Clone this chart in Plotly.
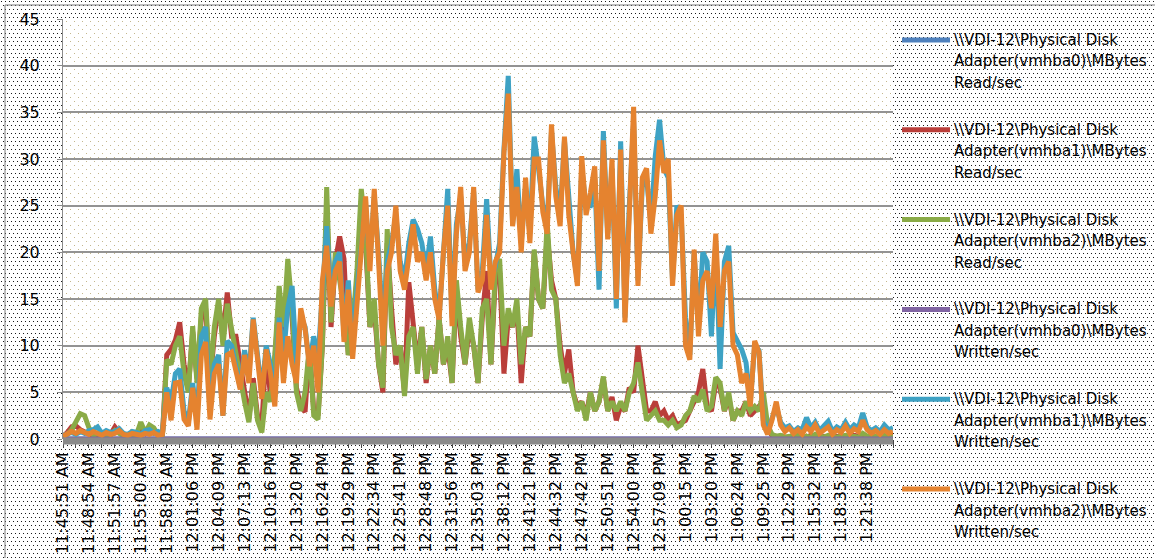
import base64
import plotly.graph_objects as go

# ---------------------------------------------------------------------------
# Data: one sample every ~15 s, a time label every 6th sample
# ---------------------------------------------------------------------------
TICK_LABELS = [
    "11:45:51 AM", "11:48:54 AM", "11:51:57 AM", "11:55:00 AM", "11:58:03 AM",
    "12:01:06 PM", "12:04:09 PM", "12:07:13 PM", "12:10:16 PM", "12:13:20 PM",
    "12:16:24 PM", "12:19:29 PM", "12:22:34 PM", "12:25:41 PM", "12:28:48 PM",
    "12:31:56 PM", "12:35:03 PM", "12:38:12 PM", "12:41:21 PM", "12:44:32 PM",
    "12:47:42 PM", "12:50:51 PM", "12:54:00 PM", "12:57:09 PM", "1:00:15 PM",
    "1:03:20 PM", "1:06:24 PM", "1:09:25 PM", "1:12:29 PM", "1:15:32 PM",
    "1:18:35 PM", "1:21:38 PM",
]
SAMPLES_PER_LABEL = 6

SERIES_NAMES = [
    "\\\\VDI-12\\Physical Disk Adapter(vmhba0)\\MBytes Read/sec",
    "\\\\VDI-12\\Physical Disk Adapter(vmhba1)\\MBytes Read/sec",
    "\\\\VDI-12\\Physical Disk Adapter(vmhba2)\\MBytes Read/sec",
    "\\\\VDI-12\\Physical Disk Adapter(vmhba0)\\MBytes Written/sec",
    "\\\\VDI-12\\Physical Disk Adapter(vmhba1)\\MBytes Written/sec",
    "\\\\VDI-12\\Physical Disk Adapter(vmhba2)\\MBytes Written/sec",
]

READ_VMHBA0 = [
    0, 0, 0, 0, 0, 0, 0, 0, 0, 0, 0, 0, 0, 0, 0, 0, 0, 0, 0, 0, 0, 0, 0, 0,
    0, 0, 0, 0, 0, 0, 0, 0, 0, 0, 0, 0, 0, 0, 0, 0, 0, 0, 0, 0, 0, 0, 0, 0,
    0, 0, 0, 0, 0, 0, 0, 0, 0, 0, 0, 0, 0, 0, 0, 0, 0, 0, 0, 0, 0, 0, 0, 0,
    0, 0, 0, 0, 0, 0, 0, 0, 0, 0, 0, 0, 0, 0, 0, 0, 0, 0, 0, 0, 0, 0, 0, 0,
    0, 0, 0, 0, 0, 0, 0, 0, 0, 0, 0, 0, 0, 0, 0, 0, 0, 0, 0, 0, 0, 0, 0, 0,
    0, 0, 0, 0, 0, 0, 0, 0, 0, 0, 0, 0, 0, 0, 0, 0, 0, 0, 0, 0, 0, 0, 0, 0,
    0, 0, 0, 0, 0, 0, 0, 0, 0, 0, 0, 0, 0, 0, 0, 0, 0, 0, 0, 0, 0, 0, 0, 0,
    0, 0, 0, 0, 0, 0, 0, 0, 0, 0, 0, 0, 0, 0, 0, 0, 0, 0, 0, 0, 0, 0, 0, 0,
    0,
]
READ_VMHBA1 = [
    0.3, 0.7, 1.3, 1.4, 1.0, 0.8, 0.5, 0.3, 0.4, 0.2, 0.6, 0.5,
    1.3, 0.7, 0.4, 0.3, 0.5, 0.4, 0.9, 0.6, 1.2, 1.0, 0.5, 0.4,
    9, 9.6, 10.6, 12.5, 8, 5.5, 11.5, 6.5, 13, 14,
    6, 11, 14.5, 11, 15.7, 11, 11, 8, 4.5, 2.2,
    6.5, 2.5, 1.5, 9.6, 4.5, 8.5, 15, 11, 17, 13,
    5.5, 3.5, 2.9, 10, 3, 2.5, 10, 25, 12, 19,
    21.7, 19.3, 9, 12, 17, 25, 21, 12, 14, 8,
    5, 21, 14, 8, 10, 5, 16.8, 12, 8, 12,
    6, 10, 7, 13, 8, 10, 6, 16, 11, 8,
    12, 10, 6, 13, 18, 8, 17, 18, 7, 13,
    12, 14, 6, 12, 11, 20, 15, 14, 22, 17,
    15, 10, 7, 9.6, 5, 3.5, 4, 2.5, 5, 3,
    4, 6.5, 3, 4.5, 2, 3.5, 3, 5.5, 5, 10,
    6, 3, 3, 4, 2.5, 3, 2, 2.5, 1.5, 1.8,
    2, 3, 4, 5, 7.5, 3.5, 3, 6, 5.5, 3, 4.5, 2,
    3, 3, 4, 2.5, 3, 3.5, 4, 1, 0.4, 0.3, 0.2, 0.2,
    0.2, 0.3, 0.2, 0.3, 0.2, 0.4, 0.3, 0.2, 0.3, 0.2, 0.4, 0.3, 0.2,
    0.3, 0.2, 0.4, 0.3, 0.5, 0.2, 0.3, 0.2, 0.3, 0.2, 0.4, 0.3,
]
READ_VMHBA2 = [
    0.2, 0.5, 1.0, 2.0, 2.7, 2.5, 1.2, 0.4, 0.6, 0.3, 0.5, 0.4,
    0.9, 0.6, 0.3, 0.5, 0.4, 0.5, 1.8, 0.7, 1.5, 1.2, 0.4, 0.3,
    8.5, 8, 10, 11, 7, 5, 12.1, 6, 14, 15,
    6, 12, 15, 10, 14.5, 11.8, 9, 7, 4, 1.8,
    6, 2, 0.7, 5, 4, 9, 16.4, 12, 19.3, 14,
    5, 3, 5, 10, 2.5, 2.1, 10, 27, 12.5, 20,
    17, 14, 9, 12, 18, 26.8, 22, 12, 15, 8,
    5.5, 22.5, 12, 9, 10, 4.6, 11, 12, 7, 12,
    6.4, 10, 7, 13, 8, 11, 6, 17, 12, 8,
    13, 10, 6, 14, 15, 8, 18, 19.3, 10, 14,
    12, 15, 8, 12, 11, 20.3, 15, 14, 23.2, 16,
    15, 9, 6, 7, 5, 3, 4, 2, 5, 3,
    4, 6.7, 3, 4, 3, 4, 3, 5, 6, 8.2,
    5, 2, 2.5, 3, 2, 2, 1.5, 2, 1.2, 1.5,
    2.5, 3, 4.6, 4, 5.3, 3, 3.5, 6.6, 6, 3, 5, 2,
    3, 2.5, 4, 3, 3.5, 3, 5, 1.5, 0.5, 0.3, 0.4, 0.2,
    0.3, 0.2, 0.4, 0.2, 0.3, 0.2, 0.5, 0.3, 0.2, 0.4, 0.3, 0.2, 0.3,
    0.4, 0.2, 0.3, 0.2, 0.6, 0.3, 0.2, 0.3, 0.2, 0.4, 0.3, 0.2,
]
WRITTEN_VMHBA0 = [
    0, 0, 0, 0, 0, 0, 0, 0, 0, 0, 0, 0, 0, 0, 0, 0, 0, 0, 0, 0, 0, 0, 0, 0,
    0, 0, 0, 0, 0, 0, 0, 0, 0, 0, 0, 0, 0, 0, 0, 0, 0, 0, 0, 0, 0, 0, 0, 0,
    0, 0, 0, 0, 0, 0, 0, 0, 0, 0, 0, 0, 0, 0, 0, 0, 0, 0, 0, 0, 0, 0, 0, 0,
    0, 0, 0, 0, 0, 0, 0, 0, 0, 0, 0, 0, 0, 0, 0, 0, 0, 0, 0, 0, 0, 0, 0, 0,
    0, 0, 0, 0, 0, 0, 0, 0, 0, 0, 0, 0, 0, 0, 0, 0, 0, 0, 0, 0, 0, 0, 0, 0,
    0, 0, 0, 0, 0, 0, 0, 0, 0, 0, 0, 0, 0, 0, 0, 0, 0, 0, 0, 0, 0, 0, 0, 0,
    0, 0, 0, 0, 0, 0, 0, 0, 0, 0, 0, 0, 0, 0, 0, 0, 0, 0, 0, 0, 0, 0, 0, 0,
    0, 0, 0, 0, 0, 0, 0, 0, 0, 0, 0, 0, 0, 0, 0, 0, 0, 0, 0, 0, 0, 0, 0, 0,
    0,
]
WRITTEN_VMHBA1 = [
    0.4, 0.6, 0.7, 0.5, 0.8, 0.6, 0.9, 1.0, 1.3, 0.6, 0.9, 0.7,
    0.8, 1.1, 0.6, 0.5, 0.8, 0.7, 0.5, 0.9, 1.0, 0.6, 0.8, 0.6,
    5.5, 4, 7, 7.5, 3, 1.8, 6, 2, 11, 12,
    3, 8, 9, 2.5, 10.5, 10, 8, 5.5, 9.5, 7,
    13, 8.5, 5, 10, 8, 4.5, 13, 9, 14, 16.4,
    8, 13, 12, 8, 11, 8.6, 16, 22.8, 15, 19,
    20, 11, 17, 10, 16, 21, 25, 19, 26, 20,
    12, 19, 21, 24, 19, 17, 21, 23.5, 22.5, 21,
    18, 21.7, 16, 13, 21, 26.8, 13, 23, 26, 19,
    21, 26.5, 16, 18, 25.7, 17, 18.5, 21, 31, 38.9,
    23, 28.9, 21, 27, 22, 32.4, 29, 25, 23, 33,
    27, 24, 32, 25, 20, 17, 29, 25, 25, 28,
    16, 33, 22, 29, 14, 31.9, 13, 25, 34, 17,
    27, 28, 23, 30.3, 34.2, 29, 28, 17, 25, 24,
    13, 9, 20, 12, 20, 19, 11, 21, 7.5, 19, 20.7, 11.4,
    10.5, 9.6, 8.2, 4, 10, 9.5, 2, 0.8, 2.2, 3.5, 1.8, 1.2,
    1.4, 0.8, 1.2, 1.0, 2.3, 1.2, 1.8, 0.9, 1.4, 1.9, 0.8, 1.3, 1.0,
    1.8, 1.0, 1.5, 1.2, 2.8, 1.3, 0.9, 1.2, 0.8, 1.5, 1.0, 1.2,
]
WRITTEN_VMHBA2 = [
    0.3, 0.5, 0.8, 0.6, 0.9, 0.7, 0.5, 0.8, 0.6, 0.4, 0.7, 0.5,
    0.6, 0.9, 0.5, 0.4, 0.6, 0.5, 0.4, 0.6, 0.5, 0.7, 0.4, 0.5,
    5, 2, 6, 6.1, 2.1, 1.4, 5.5, 1.0, 9, 10.4,
    2.1, 7, 8, 2.5, 9, 9.3, 7, 5.3, 9, 6,
    12.8, 8, 4.3, 9.6, 7, 3.5, 12.5, 6, 11, 8,
    6, 14, 11.8, 7.8, 10, 5, 17, 20.7, 14.2, 18,
    19, 10.4, 16, 8.6, 15, 20, 26, 18, 26.8, 19,
    10, 18, 20, 25, 18, 16, 20, 23, 19, 20,
    17, 20, 15, 12.8, 20, 25, 12.1, 22, 27, 18,
    20, 27, 15.7, 17, 24, 16, 19, 20, 30.7, 37,
    22.8, 27, 20, 28, 21, 30, 30, 24.3, 22, 33.7,
    26, 22.8, 32.4, 24, 20, 16.4, 30.3, 24, 26.4, 29.2,
    18, 32, 21.4, 30, 15, 31, 12.5, 25.7, 35.6, 16.4,
    28, 29, 22, 26, 32, 28.5, 30, 16.4, 24, 25,
    10, 8.5, 20.3, 11, 17, 18, 14, 22, 12, 18, 19, 10,
    9, 6, 7, 3.5, 10.5, 9.3, 1.5, 0.5, 2, 4, 1.5, 0.8,
    1.2, 0.6, 1.0, 0.5, 1.3, 0.8, 1.5, 0.6, 0.9, 1.3, 0.5, 1.0, 0.7,
    1.4, 0.6, 1.1, 0.8, 2.0, 1.0, 0.6, 0.9, 0.5, 1.0, 0.6, 0.8,
]

SERIES_VALUES = [READ_VMHBA0, READ_VMHBA1, READ_VMHBA2,
                 WRITTEN_VMHBA0, WRITTEN_VMHBA1, WRITTEN_VMHBA2]
SERIES_COLORS = ["#4F81BD", "#BA3E3A", "#8AAB47", "#8064A2", "#3EA2C4", "#E5832F"]

# ---------------------------------------------------------------------------
# Page geometry (pixels)
# ---------------------------------------------------------------------------
W, H = 1155, 558
M_L, M_R, M_T, M_B = 63, 262, 19, 119
PW, PH = W - M_L - M_R, H - M_T - M_B
FONT = "DejaVu Sans"


def fx(px):
    return (px - M_L) / PW


def fy(py):
    return (H - M_B - py) / PH


def dot_pattern(w, h, tile, dots, color, bg):
    rects = "".join(
        f'<rect x="{x}" y="{y}" width="1" height="1" fill="{color}"/>' for x, y in dots
    )
    svg = (
        f'<svg xmlns="http://www.w3.org/2000/svg" width="{w}" height="{h}" '
        f'viewBox="0 0 {w} {h}" preserveAspectRatio="none">'
        f'<defs><pattern id="p" width="{tile[0]}" height="{tile[1]}" '
        f'patternUnits="userSpaceOnUse">{rects}</pattern></defs>'
        f'<rect width="{w}" height="{h}" fill="{bg}"/>'
        f'<rect width="{w}" height="{h}" fill="url(#p)"/></svg>'
    )
    return "data:image/svg+xml;base64," + base64.b64encode(svg.encode()).decode()


n = len(WRITTEN_VMHBA2)
x_idx = list(range(n))

fig = go.Figure()
for name, vals, col in zip(SERIES_NAMES, SERIES_VALUES, SERIES_COLORS):
    fig.add_trace(go.Scatter(
        x=x_idx, y=vals, name=name, mode="lines",
        line=dict(color=col, width=5), showlegend=False,
    ))

tickvals = list(range(0, n, SAMPLES_PER_LABEL // 2))
ticktext = [TICK_LABELS[v // SAMPLES_PER_LABEL] if v % SAMPLES_PER_LABEL == 0
            and v // SAMPLES_PER_LABEL < len(TICK_LABELS) else "" for v in tickvals]

# Chart-area and plot-area dotted fills
images = [
    dict(source=dot_pattern(W, H, (4, 8), [(1, 1), (3, 5)], "#1a1a1a", "#ffffff"),
         xref="paper", yref="paper", x=fx(0), y=fy(0), sizex=W / PW, sizey=H / PH,
         xanchor="left", yanchor="top", sizing="stretch", layer="below"),
    dict(source=dot_pattern(PW, PH, (8, 8), [(3, 2), (7, 6)], "#C4B78C", "#ffffff"),
         xref="paper", yref="paper", x=0, y=1, sizex=1, sizey=1,
         xanchor="left", yanchor="top", sizing="stretch", layer="below"),
]

shapes = [
    # chart-area frame
    dict(type="line", xref="paper", yref="paper", x0=fx(5), x1=fx(W), y0=fy(5), y1=fy(5),
         line=dict(color="#7A7A7A", width=1)),
    dict(type="line", xref="paper", yref="paper", x0=fx(5), x1=fx(5), y0=fy(5), y1=fy(H),
         line=dict(color="#7A7A7A", width=1)),
    # heavy category axis line, drawn over the series
    dict(type="line", xref="paper", yref="paper", x0=0, x1=1, y0=fy(441), y1=fy(441),
         line=dict(color="#8A8A8A", width=7), layer="above"),
]
annotations = []

# Legend on the right: line sample + three wrapped text lines per series
LEG_TOP, LEG_STEP, LINE_STEP = 40, 89.8, 21.5
for k, (name, col) in enumerate(zip(SERIES_NAMES, SERIES_COLORS)):
    yc = LEG_TOP + k * LEG_STEP
    shapes.append(dict(type="line", xref="paper", yref="paper",
                       x0=fx(902), x1=fx(950), y0=fy(yc), y1=fy(yc),
                       line=dict(color=col, width=5)))
    words = name.split(" ")
    lines = [" ".join(words[:2]), words[2], " ".join(words[3:])]
    for j, txt in enumerate(lines):
        annotations.append(dict(
            xref="paper", yref="paper", x=fx(952), y=fy(yc + j * LINE_STEP),
            xanchor="left", yanchor="middle", text=txt, showarrow=False,
            font=dict(family=FONT, size=15, color="#000000"),
        ))

fig.update_layout(
    width=W, height=H, autosize=False,
    margin=dict(l=M_L, r=M_R, t=M_T, b=M_B, pad=0, autoexpand=False),
    paper_bgcolor="#ffffff", plot_bgcolor="#ffffff",
    images=images, shapes=shapes, annotations=annotations,
    showlegend=False, hovermode=False,
    font=dict(family=FONT, color="#000000"),
)
fig.update_xaxes(
    range=[0, n - 1], showgrid=False, zeroline=False, automargin=False,
    showline=False,
    tickmode="array", tickvals=tickvals, ticktext=ticktext,
    ticks="outside", ticklen=8, tickwidth=1, tickcolor="#444444",
    ticklabelstandoff=-2,
    tickangle=-90, tickfont=dict(family=FONT, size=16, color="#000000"),
)
fig.update_yaxes(
    range=[0, 45], dtick=5, tick0=0, showgrid=True, gridcolor="#939393", gridwidth=2,
    zeroline=False, showline=True, linecolor="#8A8A8A", linewidth=1, automargin=False,
    ticks="outside", ticklen=5, tickcolor="#8A8A8A",
    ticklabelstandoff=14, tickfont=dict(family=FONT, size=16, color="#000000"),
)

fig.write_html("out.html")
